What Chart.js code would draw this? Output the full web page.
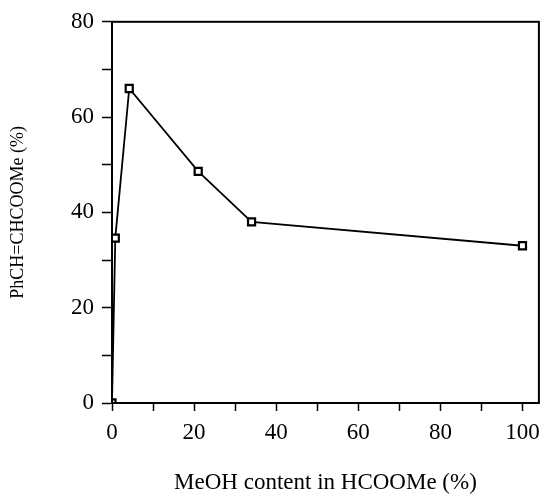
<!DOCTYPE html>
<html>
<head>
<meta charset="utf-8">
<script src="https://cdn.jsdelivr.net/npm/chart.js@4"></script>
<style>
  html, body { margin: 0; padding: 0; background: #fff; }
  #wrap { width: 548px; height: 497px; }
</style>
</head>
<body>
<div id="wrap"><canvas id="chart" width="548" height="497"></canvas></div>
<script>
// data
const meohContent = [0, 0.8, 4.2, 21, 34, 100];
const cinnamateYield = [0, 34.6, 66, 48.6, 38, 33];
const xTicks = [0, 10, 20, 30, 40, 50, 60, 70, 80, 90, 100];
const yTicks = [0, 10, 20, 30, 40, 50, 60, 70, 80];

const points = meohContent.map((x, i) => ({ x: x, y: cinnamateYield[i] }));
const serif = "'Liberation Serif', 'Times New Roman', serif";

// draw the box around the plot area (top and right edges)
const frame = {
    id: 'frame',
    afterDraw(chart) {
        const a = chart.chartArea;
        const ctx = chart.ctx;
        ctx.save();
        ctx.strokeStyle = '#000';
        ctx.lineWidth = 2;
        ctx.strokeRect(a.left, a.top, a.right - a.left, a.bottom - a.top);
        ctx.restore();
    }
};

const setTicks = (list) => (scale) => {
    scale.ticks = list.map(v => ({ value: v }));
};

new Chart(document.getElementById('chart').getContext('2d'), {
    type: 'scatter',
    data: {
        datasets: [{
            data: points,
            showLine: true,
            borderColor: '#000',
            borderWidth: 1.8,
            pointStyle: 'rect',
            pointRadius: 5,
            pointBorderWidth: 2.2,
            pointBackgroundColor: '#fff',
            pointBorderColor: '#000'
        }, {
            // little dot inside each marker
            data: points,
            showLine: false,
            pointStyle: 'rect',
            pointRadius: 1,
            pointBorderWidth: 0,
            pointBackgroundColor: '#000'
        }]
    },
    options: {
        responsive: false,
        animation: false,
        layout: { padding: { left: 0, right: 2, top: 19, bottom: 0 } },
        plugins: {
            legend: { display: false },
            tooltip: { enabled: false }
        },
        scales: {
            x: {
                type: 'linear',
                min: 0,
                max: 104,
                afterBuildTicks: setTicks(xTicks),
                afterFit: (s) => { s.height = 94; },
                grid: {
                    drawOnChartArea: false,
                    drawTicks: true,
                    tickLength: 8,
                    tickColor: '#000',
                    tickWidth: 1.5
                },
                border: { color: '#000', width: 2 },
                ticks: {
                    color: '#000',
                    padding: 8,
                    maxRotation: 0,
                    autoSkip: false,
                    font: { family: serif, size: 23 },
                    callback: (v) => (v % 20 === 0 ? v : '')
                },
                title: {
                    display: true,
                    text: 'MeOH content in HCOOMe (%)',
                    color: '#000',
                    padding: { top: 0, bottom: 0 },
                    font: { family: serif, size: 23 }
                }
            },
            y: {
                type: 'linear',
                min: 0,
                max: 80,
                afterBuildTicks: setTicks(yTicks),
                afterFit: (s) => { s.width = 112; },
                grid: {
                    drawOnChartArea: false,
                    drawTicks: true,
                    tickLength: 10,
                    tickColor: '#000',
                    tickWidth: 1.5
                },
                border: { color: '#000', width: 2 },
                ticks: {
                    color: '#000',
                    padding: 8,
                    autoSkip: false,
                    font: { family: serif, size: 23 },
                    callback: (v) => (v % 20 === 0 ? v : '')
                },
                title: {
                    display: true,
                    text: 'PhCH=CHCOOMe (%)',
                    color: '#000',
                    padding: { top: 7, bottom: 0 },
                    font: { family: serif, size: 18 }
                }
            }
        }
    },
    plugins: [frame]
});
</script>
</body>
</html>
